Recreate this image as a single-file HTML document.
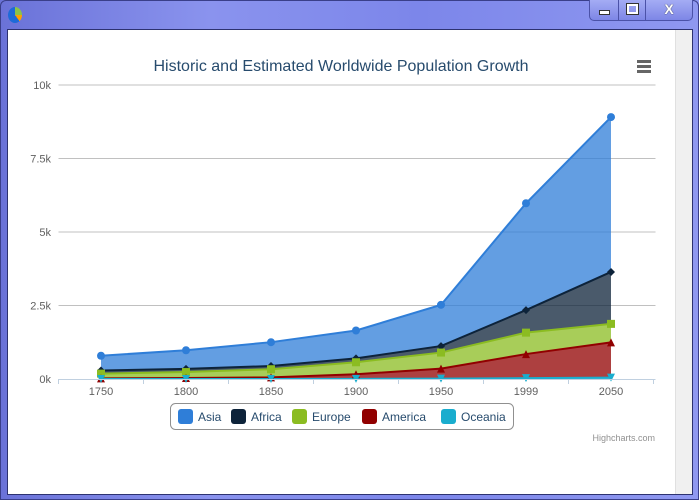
<!DOCTYPE html>
<html><head><meta charset="utf-8"><style>
body{margin:0;width:699px;height:500px;overflow:hidden;font-family:"Liberation Sans",sans-serif;background:linear-gradient(90deg,#6a72d8,#8a93ee 30%,#7c86ea 60%,#8f98f0);}
#frame{position:absolute;left:0;top:0;width:697px;height:498px;border:1px solid #3a3f8a;border-radius:6px 6px 0 0;}
#content{position:absolute;left:7px;top:29px;width:684px;height:464px;background:#fff;border:1px solid #2d3270;}
#scroll{position:absolute;right:0;top:0;width:16px;height:100%;background:#f0f0f0;border-left:1px solid #e0e0e0;}
#btns{position:absolute;left:589px;top:0;width:102px;height:20px;border:1px solid #4b52a8;border-top:none;border-radius:0 0 5px 5px;background:linear-gradient(#a4acf4,#7d86e6);}
</style></head><body>
<div id="frame"></div>
<div style="position:absolute;left:8px;top:7px;width:14px;height:16px;border-radius:50%;background:conic-gradient(#8bc34a 0 25%,#ffa000 25% 40%,#1e6ad8 40% 100%);"></div>
<div id="btns">
<div style="position:absolute;left:0;top:0;width:28px;height:20px;border-right:1px solid #4b52a8;"><div style="position:absolute;left:9px;top:10px;width:9px;height:3px;background:#fff;border:1px solid #333"></div></div>
<div style="position:absolute;left:29px;top:0;width:26px;height:20px;border-right:1px solid #4b52a8;"><div style="position:absolute;left:8px;top:4px;width:7px;height:6px;border:2px solid #fff;outline:1px solid #333"></div></div>
<div style="position:absolute;left:56px;top:0;width:46px;height:20px;color:#fff;font-weight:bold;text-align:center;font-size:14px;line-height:18px;text-shadow:0 0 1px #000;">X</div>
</div>
<div id="content">
<div id="scroll"></div>
</div>
<svg id="chart" width="699" height="500" style="position:absolute;left:0;top:0"></svg>
<script>
const categories=["1750","1800","1850","1900","1950","1999","2050"];
const names=["Asia","Africa","Europe","America","Oceania"];
const colors=["#2f7ed8","#0d233a","#8bbc21","#910000","#1aadce"];
const asia=[502,635,809,947,1402,3634,5268];
const africa=[106,107,111,133,221,767,1766];
const europe=[163,203,276,408,547,729,628];
const america=[18,31,54,156,339,818,1201];
const oceania=[2,2,2,6,13,30,46];
const yTicks=[0,2500,5000,7500,10000];
const yTickLabels=["0k","2.5k","5k","7.5k","10k"];
const series=[asia,africa,europe,america,oceania];
const L=58.5,R=653.5,T=85,B=379,yMax=10000;
const step=(R-L)/categories.length;
const x=i=>L+step*(i+0.5);
const y=v=>B-(v/yMax)*(B-T);
const NS="http://www.w3.org/2000/svg";
const svg=document.getElementById('chart');
function mk(t,a,p){const e=document.createElementNS(NS,t);for(const k in a)e.setAttribute(k,a[k]);(p||svg).appendChild(e);return e;}
yTicks.forEach((v,i)=>{
 if(v>0){const g=mk('line',{x1:L,x2:R+2,y1:y(v),y2:y(v),stroke:'#c0c0c0','stroke-width':1});
 
 }
 const t=mk('text',{x:51,y:y(v)+4,'text-anchor':'end','font-size':11,fill:'#606060'});t.textContent=yTickLabels[i];
 
 
});
// stacks: bottom = oceania
const n=categories.length;let base=new Array(n).fill(0);const tops=[];
for(let s=series.length-1;s>=0;s--){const top=series[s].map((v,i)=>base[i]+v);tops[s]={top,base:base.slice()};base=top;}
for(let s=0;s<series.length;s++){
 const {top,base}=tops[s];
 let d='M'+top.map((v,i)=>x(i)+','+y(v)).join(' L');
 for(let i=n-1;i>=0;i--)d+=' L'+x(i)+','+y(base[i]);
 const a=mk('path',{d:d+'Z',fill:colors[s],'fill-opacity':0.75});
 
 
 const ln=mk('path',{d:'M'+top.map((v,i)=>x(i)+','+y(v)).join(' L'),fill:'none',stroke:colors[s],'stroke-width':2});
 
 
}
function marker(s,cx,cy,p){
 let e;
 if(s==0)e=mk('circle',{cx,cy,r:4},p);
 else if(s==1)e=mk('path',{d:`M${cx},${cy-4}L${cx+4},${cy}L${cx},${cy+4}L${cx-4},${cy}Z`},p);
 else if(s==2)e=mk('rect',{x:cx-4,y:cy-4,width:8,height:8},p);
 else if(s==3)e=mk('path',{d:`M${cx},${cy-4}L${cx+4},${cy+4}L${cx-4},${cy+4}Z`},p);
 else e=mk('path',{d:`M${cx-4},${cy-4}L${cx+4},${cy-4}L${cx},${cy+4}Z`},p);
 e.setAttribute('fill',colors[s]);return e;
}
for(let s=0;s<series.length;s++)tops[s].top.forEach((v,i)=>{
 const m=marker(s,x(i),y(v));
 
 
});
mk('line',{x1:L,x2:R+2,y1:B+0.5,y2:B+0.5,stroke:'#c0d0e0','stroke-width':1});
for(let i=0;i<=n;i++)mk('line',{x1:L+step*i,x2:L+step*i,y1:B,y2:B+5,stroke:'#c0d0e0'});
categories.forEach((c,i)=>{const t=mk('text',{x:x(i),y:B+16,'text-anchor':'middle','font-size':11,fill:'#606060'});t.textContent=c;
 
 });
const title=mk('text',{x:341,y:71,'text-anchor':'middle','font-size':16,fill:'#274b6d'});title.textContent='Historic and Estimated Worldwide Population Growth';


const menu=mk('g',{});
[60,65,70].forEach(yy=>mk('rect',{x:637,y:yy,width:14,height:3,fill:'#666'},menu));
const lg=mk('g',{});
mk('rect',{x:170.5,y:403.5,width:343,height:26,rx:5,fill:'#fff',stroke:'#909090'},lg);
const lx=[178,231,292,362,441];
names.forEach((nm,i)=>{const g=mk('g',{},lg);
 mk('rect',{x:lx[i],y:409,width:15,height:15,rx:3,fill:colors[i]},g);
 const t=mk('text',{x:lx[i]+20,y:421,'font-size':12,fill:'#274b6d'},g);t.textContent=nm;});
const cr=mk('text',{x:655,y:441,'text-anchor':'end','font-size':9,fill:'#909090'});cr.textContent='Highcharts.com';

</script>
</body></html>
